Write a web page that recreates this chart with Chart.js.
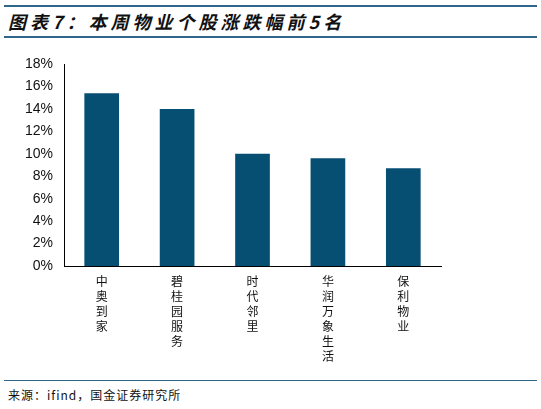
<!DOCTYPE html>
<html>
<head>
<meta charset="utf-8">
<script src="https://cdn.jsdelivr.net/npm/chart.js@4"></script>
<style>
  body { margin: 0; width: 541px; height: 409px; background: #fff; font-family: "Noto Sans CJK SC", sans-serif; position: relative; }
  .rule { position: absolute; left: 4px; right: 4px; height: 2px; background: #2f6788; }
  #title { position: absolute; left: 8px; top: 8px; font-size: 18px; font-weight: bold; font-style: italic; color: #111; letter-spacing: 4px; }
  #src { position: absolute; left: 8px; top: 386px; font-size: 12px; color: #111; letter-spacing: 1px; }
  #box { position: absolute; left: 0; top: 52px; width: 470px; height: 312px; }
</style>
</head>
<body>
<div class="rule" style="top:5px"></div>
<div id="title">图表7：本周物业个股涨跌幅前5名</div>
<div class="rule" style="top:36px"></div>
<div id="box"><canvas id="myChart"></canvas></div>
<div class="rule" style="top:380px;height:1px"></div>
<div id="src">来源：ifind，国金证券研究所</div>
<script>
  const categories = ['中奥到家', '碧桂园服务', '时代邻里', '华润万象生活', '保利物业'];
  const changes = [15.4, 14.0, 10.0, 9.6, 8.7];

  const initChart = function(){
    const ctx = document.getElementById('myChart').getContext('2d');
    // eslint-disable-next-line no-undef, no-unused-vars
    const myChart = new Chart(ctx, {
      type: 'bar',
      data: {
        labels: categories.map(c => c.split('')),
        datasets: [{
          data: changes,
          backgroundColor: '#064e72',
          barPercentage: 0.46,
          categoryPercentage: 1,
        }]
      },
      options: {
        responsive: true,
        maintainAspectRatio: false,
        animation: false,
        layout: { padding: { left: 22, right: 29, top: 12, bottom: 0 } },
        plugins: { legend: { display: false }, tooltip: { enabled: false } },
        scales: {
          x: {
            grid: { display: false },
            border: { color: '#000' },
            ticks: { color: '#111', maxRotation: 0, padding: 0, font: { size: 12, family: 'Noto Sans CJK SC', lineHeight: 1.25 } },
          },
          y: {
            min: 0,
            max: 18,
            grid: { display: false },
            border: { color: '#000' },
            ticks: { stepSize: 2, color: '#111', callback: v => v + '%', font: { size: 14, family: 'Liberation Sans' } },
          }
        }
      }
    });
  };

  initChart();
</script>
</body>
</html>
